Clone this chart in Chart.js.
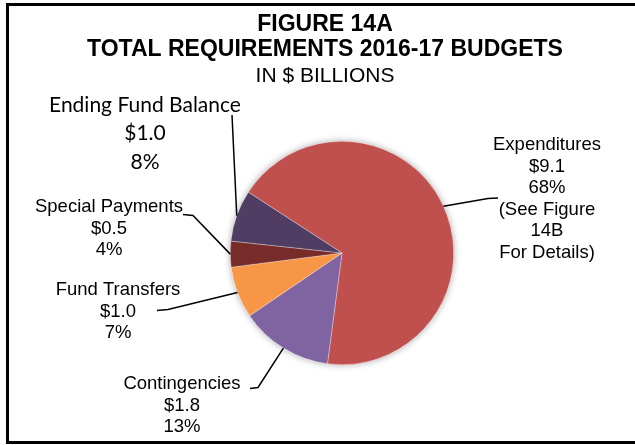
<!DOCTYPE html>
<html>
<head>
<meta charset="utf-8">
<script src="https://cdn.jsdelivr.net/npm/chart.js@4.4.1/dist/chart.umd.min.js"></script>
<style>
  html, body { margin: 0; padding: 0; background: #fff; }
  #wrap { width: 635px; height: 445px; position: relative; }
</style>
</head>
<body>
<div id="wrap"><canvas id="grafico"></canvas></div>
<script>
const categories = ['Expenditures', 'Contingencies', 'Fund Transfers', 'Special Payments', 'Ending Fund Balance'];
const amounts = [9.1, 1.8, 1.0, 0.5, 1.0];
const shares = ['68%', '13%', '7%', '4%', '8%'];
const notes = [['(See Figure', '14B', 'For Details)'], [], [], [], []];
const colors = ['#C0504D', '#8064A2', '#F79646', '#772C2A', '#4F3D63'];

// where each callout sits: text centre, first line y, line step, and the leader's start/elbow
const callouts = [
    { x: 547, y: 145, step: 21.5, from: [498, 198], elbow: [488, 198.5] },
    { x: 182, y: 384, step: 21.5, from: [250, 388.5], elbow: [258, 387.5] },
    { x: 118, y: 290, step: 21.5, from: [157, 310.5], elbow: [168, 309.5] },
    { x: 109, y: 207, step: 21.5, from: [183, 214.5], elbow: [193, 215.5] },
    { x: 145, y: 105, step: 28.5, from: [232, 115], elbow: null, font: '21px Lato' }
];

const frame = {
    id: 'frame',
    beforeDraw(chart) {
        const ctx = chart.ctx;
        ctx.save();
        ctx.fillStyle = '#fff';
        ctx.fillRect(0, 0, chart.width, chart.height);
        ctx.strokeStyle = '#000';
        ctx.lineWidth = 3;
        ctx.strokeRect(7.5, 4.5, 700, 438);
        ctx.restore();
    }
};

// soft shadow round the whole pie, drawn under the slices
const pieShadow = {
    id: 'pieShadow',
    beforeDatasetsDraw(chart) {
        const arc = chart.getDatasetMeta(0).data[0];
        const { x, y, outerRadius } = arc.getProps(['x', 'y', 'outerRadius'], true);
        const ctx = chart.ctx;
        ctx.save();
        ctx.shadowColor = 'rgba(0,0,0,0.35)';
        ctx.shadowBlur = 7;
        ctx.fillStyle = '#fff';
        ctx.beginPath();
        ctx.arc(x, y, outerRadius, 0, Math.PI * 2);
        ctx.fill();
        ctx.restore();
    }
};

const calloutLabels = {
    id: 'calloutLabels',
    afterDraw(chart) {
        const ctx = chart.ctx;
        ctx.save();
        ctx.fillStyle = '#000';
        ctx.textAlign = 'center';
        ctx.textBaseline = 'middle';

        ctx.font = 'bold 23px "Liberation Sans", Arial';
        ctx.fillText('FIGURE 14A', 325, 24.5);
        ctx.fillText('TOTAL REQUIREMENTS 2016-17 BUDGETS', 325, 49.5);
        ctx.font = '21px "Liberation Sans", Arial';
        ctx.fillText('IN $ BILLIONS', 325, 76.5);

        const arcs = chart.getDatasetMeta(0).data;
        arcs.forEach((arc, i) => {
            const c = callouts[i];
            const p = arc.getProps(['x', 'y', 'startAngle', 'endAngle', 'outerRadius'], true);
            const mid = (p.startAngle + p.endAngle) / 2;
            const ex = p.x + Math.cos(mid) * p.outerRadius;
            const ey = p.y + Math.sin(mid) * p.outerRadius;

            ctx.strokeStyle = '#000';
            ctx.lineWidth = 1.5;
            ctx.beginPath();
            ctx.moveTo(c.from[0], c.from[1]);
            if (c.elbow) ctx.lineTo(c.elbow[0], c.elbow[1]);
            ctx.lineTo(ex, ey);
            ctx.stroke();

            const lines = [categories[i], '$' + amounts[i].toFixed(1), shares[i], ...notes[i]];
            ctx.font = c.font || '18.5px "Liberation Sans", Arial';
            lines.forEach((t, k) => ctx.fillText(t, c.x, c.y + k * c.step));
        });
        ctx.restore();
    }
};

new Chart(document.getElementById('grafico'), {
    type: 'pie',
    data: {
        labels: categories,
        datasets: [{
            data: amounts,
            backgroundColor: colors,
            borderColor: 'rgba(255,255,255,0.5)',
            borderWidth: 0.6
        }]
    },
    options: {
        responsive: true,
        maintainAspectRatio: false,
        animation: false,
        rotation: -57,
        layout: { padding: { top: 141, bottom: 80, left: 60, right: 11 } },
        plugins: {
            legend: { display: false },
            tooltip: { enabled: false }
        }
    },
    plugins: [frame, pieShadow, calloutLabels]
});
</script>
</body>
</html>
